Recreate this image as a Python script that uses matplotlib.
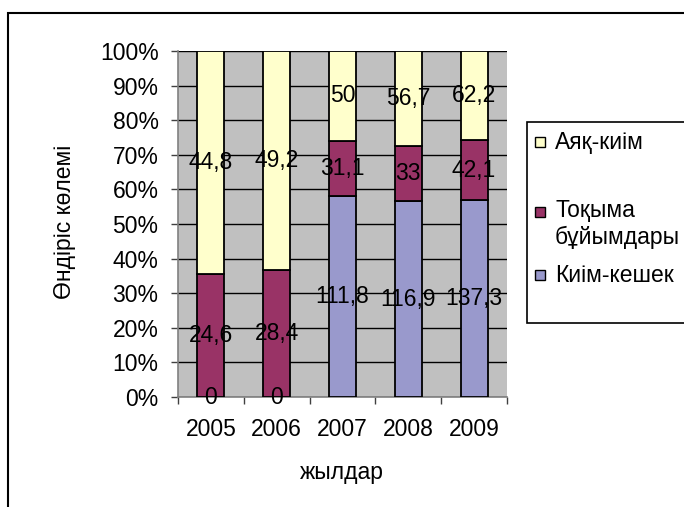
import matplotlib
matplotlib.use("Agg")
import matplotlib.pyplot as plt
from matplotlib.patches import Rectangle
import numpy as np

plt.rcParams['font.family'] = ['Liberation Sans', 'DejaVu Sans']

years = ["2005", "2006", "2007", "2008", "2009"]
series_names = ["Киім-кешек", "Тоқыма\nбұйымдары", "Аяқ-киім"]
kiim = [0, 0, 111.8, 116.9, 137.3]
tokyma = [24.6, 28.4, 31.1, 33, 42.1]
ayak = [44.8, 49.2, 50, 56.7, 62.2]
colors = ["#9999CC", "#993366", "#FFFFCC"]
yticks = [0, 10, 20, 30, 40, 50, 60, 70, 80, 90, 100]

W, H = 684, 507
fig = plt.figure(figsize=(W / 100, H / 100), dpi=100)

def fx(px):
    return px / W

def fy(py):
    return 1 - py / H

# outer chart border
fig.add_artist(Rectangle((fx(8), fy(700)), fx(800), fy(13) - fy(700),
                         transform=fig.transFigure, fill=False,
                         edgecolor="black", linewidth=1.5))

left, right, top, bottom = 178, 507, 51, 397
ax = fig.add_axes([fx(left), fy(bottom), fx(right - left), fy(top) - fy(bottom)])
ax.set_facecolor("#C0C0C0")

data = np.array([kiim, tokyma, ayak], dtype=float)
totals = data.sum(axis=0)
pct = data / totals * 100
x = np.arange(len(years))
base = np.zeros(len(years))
fs = 16.5
for i in range(len(series_names)):
    ax.bar(x, pct[i], 0.41, bottom=base, color=colors[i], edgecolor="black",
           linewidth=1.3, zorder=3)
    for j in range(len(years)):
        v = data[i, j]
        lbl = ("%g" % v).replace(".", ",")
        ax.text(x[j], base[j] + pct[i, j] / 2, lbl, ha="center", va="center",
                fontsize=fs, color="black", zorder=5)
    base += pct[i]

ax.set_xlim(-0.5, len(years) - 0.5)
ax.set_ylim(0, 100)
ax.set_yticks(yticks)
ax.set_yticklabels(["%d%%" % t for t in yticks], fontsize=fs)
ax.yaxis.grid(True, color="black", linewidth=1.0, zorder=1)
ax.set_axisbelow(True)
ax.set_xticks(x)
ax.set_xticklabels(years, fontsize=fs)
ax.set_xticks(np.arange(-0.5, len(years)), minor=True)
ax.tick_params(axis="x", which="major", length=0, pad=15)
ax.tick_params(axis="x", which="minor", length=5, width=1, color="#404040")
ax.tick_params(axis="y", length=5, width=1, color="#404040", pad=9)
for s in ["top", "right"]:
    ax.spines[s].set_visible(False)
ax.spines["left"].set_color("#808080")
ax.spines["bottom"].set_color("#808080")
ax.spines["left"].set_linewidth(1.2)
ax.spines["bottom"].set_linewidth(1.2)

fig.text(fx(342), fy(472), "жылдар", ha="center", va="center", fontsize=fs)
fig.text(fx(65), fy(222), "Өндіріс көлемі", ha="center", va="center",
         fontsize=fs, rotation=90)

# legend box
fig.add_artist(Rectangle((fx(527), fy(323)), fx(200), fy(122) - fy(323),
                         transform=fig.transFigure, fill=True, facecolor="white",
                         edgecolor="black", linewidth=1.2))
entries = [(2, 142, 142), (1, 212, 224), (0, 275, 275)]
for idx, ym, yt in entries:
    fig.add_artist(Rectangle((fx(535), fy(ym + 5)), fx(10), fy(ym - 5) - fy(ym + 5),
                             transform=fig.transFigure, facecolor=colors[idx],
                             edgecolor="black", linewidth=1.0))
    fig.text(fx(555), fy(yt), series_names[idx], ha="left", va="center",
             fontsize=fs, linespacing=1.2)

fig.savefig("out.png", dpi=100)
